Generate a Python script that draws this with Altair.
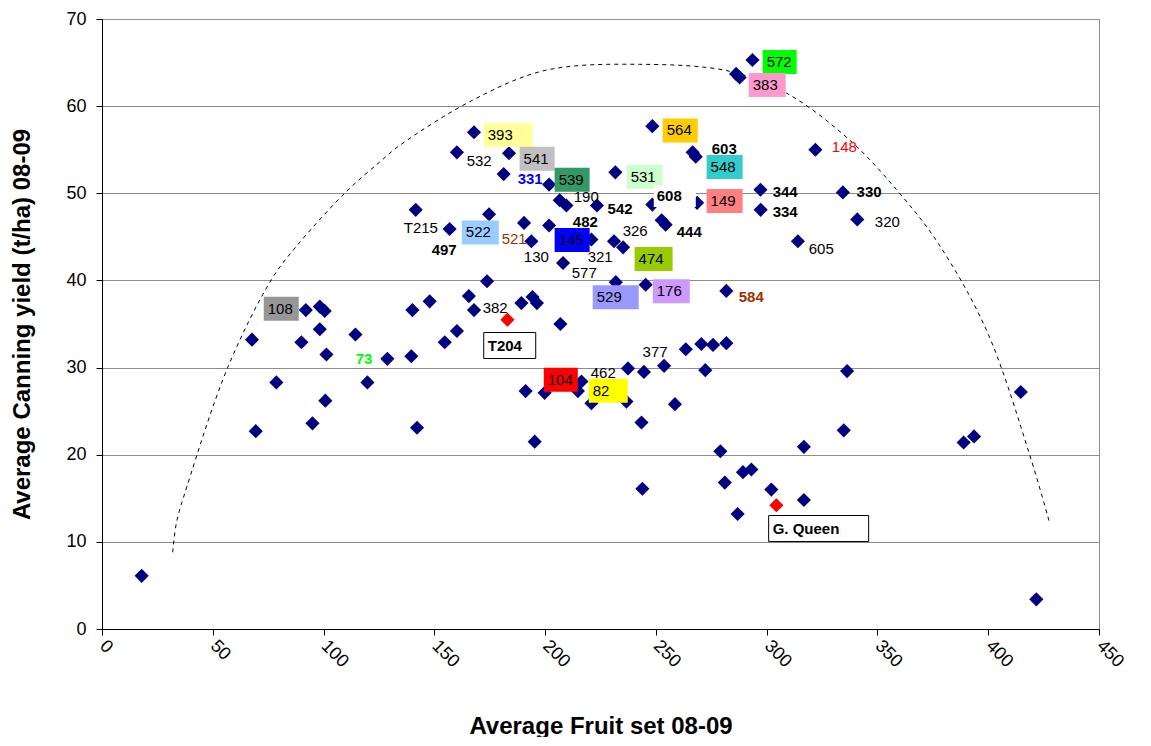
import altair as alt
import pandas as pd

FONT = "Liberation Sans"

# ---------------- data ----------------
fruit_set = [293.6, 286.2, 287.8, 248.4, 266.6, 268.0, 322.0, 297.2, 334.4, 297.3, 340.9, 314.1, 268.6, 248.4, 252.6, 254.4,
             167.9, 160.2, 183.7, 181.3, 201.8, 231.7, 206.6, 209.6, 223.4, 141.6, 156.9, 174.7, 190.5, 193.8, 201.8, 208.1,
             220.9, 231.1, 235.2, 231.9, 245.4, 281.8, 173.8, 165.6, 147.9, 140.1, 167.9, 189.3, 194.3, 196.3, 206.9, 160.2, 154.7,
             263.5, 270.5, 275.8, 281.8, 237.4, 244.6, 253.7, 272.3, 191.2, 199.8, 216.4, 214.8, 220.9, 236.7, 258.6, 243.5,
             195.3, 279.1, 243.9, 281.1, 289.3, 293.1, 286.9,
             336.3, 414.7, 334.8, 316.8, 388.9, 393.6, 302.1, 316.8, 421.7,
             92.0, 98.3, 100.5, 98.3, 67.7, 90.0, 101.3, 114.4, 128.8, 139.6, 78.7, 119.8, 100.8, 95.0, 69.4, 142.2, 17.9]
canning_yield = [65.3, 63.7, 63.3, 57.7, 54.7, 54.2, 55.0, 50.4, 50.1, 48.1, 47.0, 44.5, 48.9, 48.7, 46.9, 46.4,
                 57.0, 54.7, 54.6, 52.2, 51.0, 52.4, 49.2, 48.6, 48.6, 48.1, 45.9, 47.6, 46.6, 44.5, 46.3, 42.0,
                 44.7, 44.5, 43.8, 39.8, 39.5, 38.8, 39.9, 38.2, 37.6, 36.6, 36.6, 37.4, 38.1, 37.4, 35.0, 34.2, 32.9,
                 32.1, 32.7, 32.6, 32.8, 29.9, 29.5, 30.2, 29.7, 27.3, 27.1, 28.4, 27.3, 25.9, 26.1, 25.8, 23.7,
                 21.5, 20.4, 16.1, 16.8, 18.0, 18.3, 13.2,
                 29.6, 27.2, 22.8, 20.9, 21.4, 22.1, 16.0, 14.8, 3.4,
                 36.6, 37.0, 36.5, 34.4, 33.2, 32.9, 31.5, 33.8, 31.0, 31.3, 28.3, 28.3, 26.2, 23.6, 22.7, 23.1, 6.1]

# standard cultivars (red markers)
check_names = ["T204", "G. Queen"]
check_fruit_set = [183.0, 304.4]
check_yield = [35.5, 14.2]

# hand-drawn dashed envelope
curve_x = [31.9, 33.6, 38.4, 56.9, 76.5, 87.7, 110.3, 125.4, 134.4, 167.4, 200.0, 242.7,
           283.3, 308.9, 337.5, 360.0, 377.3, 399.2, 418.7, 427.7]
curve_y = [8.8, 12.2, 16.4, 30.1, 40.1, 43.9, 50.2, 53.6, 55.5, 60.7, 64.1, 64.8,
           64.0, 61.5, 56.1, 50.0, 44.3, 34.3, 20.0, 12.2]

# data labels: text and where it sits (data units, left edge / vertical centre)
label_text = ["572", "383", "564", "548", "149", "393", "541", "539", "531", "522", "145", "474", "529", "176",
              "108", "104", "82", "T204", "G. Queen", "608",
              "603", "148", "344", "330", "334", "320", "605", "444", "532", "331", "190", "542", "482", "T215",
              "497", "521", "130", "326", "321", "577", "584", "382", "377", "462", "73"]
label_x = [300.0, 293.7, 254.9, 274.7, 274.7, 174.1, 190.3, 206.1, 238.6, 164.2, 206.1, 242.2, 223.3, 250.4,
           74.8, 201.2, 221.5, 174.1, 302.7, 250.4,
           275.2, 329.4, 302.7, 340.6, 302.7, 348.8, 319.0, 259.4, 164.6, 187.6, 212.9, 228.2, 212.5, 136.2,
           148.8, 180.4, 190.4, 235.0, 219.2, 212.0, 287.4, 171.8, 244.0, 220.6, 114.5]
label_y = [65.07, 62.43, 57.21, 53.02, 49.12, 56.70, 53.95, 51.55, 51.89, 45.51, 44.65, 42.47, 38.06, 38.75,
           36.74, 28.59, 27.33, 32.53, 11.53, 49.70,
           55.09, 55.28, 50.12, 50.12, 47.90, 46.68, 43.62, 45.60, 53.71, 51.66, 49.62, 48.21, 46.75, 46.06,
           43.50, 44.77, 42.74, 45.68, 42.74, 40.83, 38.15, 36.82, 31.77, 29.36, 31.00]

# ---------------- styles ----------------
# box: fill, width px, height px, left offset px, stroke
BOX = {
    "572": ("#00FF00", 34, 24, -4, "transparent"),
    "383": ("#FF99CC", 37, 24, -4, "transparent"),
    "564": ("#FFCC00", 35, 24, -4, "transparent"),
    "548": ("#33CCCC", 36, 24, -4, "transparent"),
    "149": ("#FF8080", 36, 24, -4, "transparent"),
    "393": ("#FFFF99", 49, 24, -4, "transparent"),
    "541": ("#C0C0C0", 35, 24, -4, "transparent"),
    "539": ("#339966", 35, 24, -4, "transparent"),
    "531": ("#CCFFCC", 36, 24, -4, "transparent"),
    "522": ("#99CCFF", 37, 24, -4, "transparent"),
    "145": ("#0000FF", 35, 24, -4, "transparent"),
    "474": ("#99CC00", 38, 24, -4, "transparent"),
    "529": ("#9999FF", 46, 24, -4, "transparent"),
    "176": ("#CC99FF", 37, 24, -4, "transparent"),
    "108": ("#969696", 35, 24, -4, "transparent"),
    "104": ("#FF0000", 34, 24, -4, "transparent"),
    "82": ("#FFFF00", 39, 24, -4, "transparent"),
    "T204": ("#FFFFFF", 52, 26, -4, "#000000"),
    "G. Queen": ("#FFFFFF", 100, 26, -4, "#000000"),
    "608": ("#FFFFFF", 42, 22, -3, "transparent"),
}
BOLD = {"T204", "G. Queen", "608", "603", "344", "330", "334", "444", "331", "542", "482", "497", "584", "73"}
TEXT_COLOR = {"148": "#FF0000", "331": "#0000FF", "521": "#993300", "584": "#993300", "73": "#00FF00"}

pts = pd.DataFrame({"x": fruit_set, "y": canning_yield})
checks = pd.DataFrame({"x": check_fruit_set, "y": check_yield, "name": check_names})
curve = pd.DataFrame({"x": curve_x, "y": curve_y})

lab = pd.DataFrame({"text": label_text, "x": label_x, "y": label_y})
lab["color"] = [TEXT_COLOR.get(t, "#000000") for t in lab["text"]]
lab["bold"] = [t in BOLD for t in lab["text"]]

boxes = lab[lab["text"].isin(BOX.keys())].copy()
boxes["fill"] = [BOX[t][0] for t in boxes["text"]]
boxes["stroke"] = [BOX[t][4] for t in boxes["text"]]
boxes["shape"] = [
    f"M{BOX[t][3]},{-BOX[t][2] / 2}H{BOX[t][3] + BOX[t][1]}V{BOX[t][2] / 2}H{BOX[t][3]}Z" for t in boxes["text"]
]

# ---------------- encodings ----------------
x_axis = alt.Axis(
    values=list(range(0, 451, 50)), labelAngle=45, labelAlign="left", labelBaseline="middle",
    labelPadding=8, tickSize=6, tickColor="#000000", domainColor="#000000", grid=False,
    labelFont=FONT, labelFontSize=18, labelColor="#000000", labelOverlap=False, labelFlush=False,
    title="Average Fruit set 08-09", titleFont=FONT, titleFontSize=24, titleFontWeight="bold",
    titleColor="#000000", titleX=498.5, titleY=97, titleAlign="center", titleBaseline="middle",
)
y_axis = alt.Axis(
    values=list(range(0, 71, 10)), tickSize=6, tickColor="#000000", domainColor="#000000",
    labelPadding=10, grid=True, gridColor="#8c8c8c", gridWidth=1,
    labelFont=FONT, labelFontSize=18, labelColor="#000000",
    title="Average Canning yield (t/ha) 08-09", titleFont=FONT, titleFontSize=24, titleFontWeight="bold",
    titleColor="#000000", titleX=-80, titleY=305, titleAngle=-90, titleAlign="center", titleBaseline="middle",
)
X = alt.X("x:Q", scale=alt.Scale(domain=[0, 450], nice=False, zero=False), axis=x_axis)
Y = alt.Y("y:Q", scale=alt.Scale(domain=[0, 70], nice=False, zero=False), axis=y_axis)

curve_layer = alt.Chart(curve).mark_line(
    color="#000000", strokeWidth=1, strokeDash=[4, 4], interpolate="catmull-rom"
).encode(x=X, y=Y)

point_layer = alt.Chart(pts).mark_point(
    shape="diamond", filled=True, size=200, color="#000080", opacity=1
).encode(x=X, y=Y)

check_layer = alt.Chart(checks).mark_point(
    shape="diamond", filled=True, size=200, color="#FF0000", opacity=1
).encode(x=X, y=Y)

box_layer = alt.Chart(boxes).mark_point(filled=True, size=4, opacity=1, strokeWidth=1).encode(
    x=X, y=Y,
    shape=alt.Shape("shape:N", scale=None),
    fill=alt.Fill("fill:N", scale=None),
    stroke=alt.Stroke("stroke:N", scale=None),
)

text_normal = alt.Chart(lab[~lab["bold"]]).mark_text(
    align="left", baseline="middle", font=FONT, fontSize=15
).encode(x=X, y=Y, text="text:N", color=alt.Color("color:N", scale=None))

text_bold = alt.Chart(lab[lab["bold"]]).mark_text(
    align="left", baseline="middle", font=FONT, fontSize=15, fontWeight="bold"
).encode(x=X, y=Y, text="text:N", color=alt.Color("color:N", scale=None))

chart = alt.layer(
    curve_layer, point_layer, check_layer, box_layer, text_normal, text_bold
).properties(
    width=997, height=610,
    autosize=alt.AutoSizeParams(type="none"),
    padding={"left": 94, "top": 11, "right": 40, "bottom": 108},
    background="white",
).configure_view(stroke="#8c8c8c", strokeWidth=1)

chart.save("out.html", embed_options={"renderer": "svg", "actions": False})
